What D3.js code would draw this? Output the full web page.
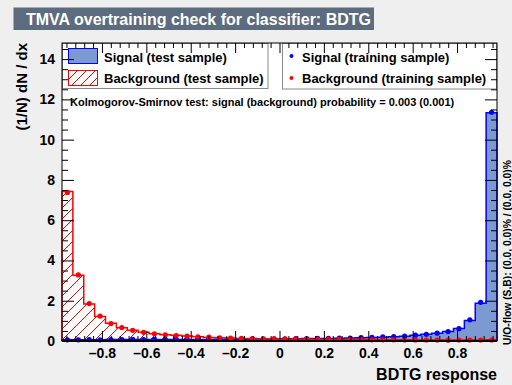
<!DOCTYPE html>
<html>
<head>
<meta charset="utf-8">
<script src="https://cdn.jsdelivr.net/npm/d3@7"></script>
<style>
  html, body { margin: 0; padding: 0; background: #efefef; }
  svg { display: block; }
  text { font-family: "Liberation Sans", Arial, Helvetica, sans-serif; font-weight: bold; }
</style>
</head>
<body>
<svg id="chart" width="512" height="385"></svg>
<script>
// BDTG response histograms: 40 bins between -0.98 and 0.98
const binEdges = [-0.98, 0.98];
const nBins = 40;

// Signal, test sample (normalised 1/N dN/dx)
const signalTest = [
  0.06, 0.06, 0.06, 0.06, 0.07, 0.07, 0.07, 0.07, 0.07, 0.08,
  0.08, 0.08, 0.08, 0.08, 0.09, 0.09, 0.09, 0.10, 0.10, 0.10,
  0.11, 0.11, 0.12, 0.12, 0.13, 0.14, 0.15, 0.16, 0.17, 0.19,
  0.21, 0.24, 0.28, 0.33, 0.38, 0.47, 0.62, 1.02, 1.88, 11.34
];
// Background, test sample
const backgroundTest = [
  7.42, 3.26, 1.84, 1.22, 0.88, 0.66, 0.53, 0.43, 0.36, 0.31,
  0.28, 0.25, 0.21, 0.18, 0.16, 0.15, 0.13, 0.12, 0.11, 0.10,
  0.10, 0.09, 0.09, 0.08, 0.08, 0.08, 0.07, 0.07, 0.07, 0.06,
  0.06, 0.06, 0.05, 0.05, 0.05, 0.05, 0.05, 0.05, 0.05, 0.06
];
// Signal, training sample
const signalTrain = [
  0.06, 0.06, 0.07, 0.06, 0.07, 0.07, 0.08, 0.07, 0.08, 0.08,
  0.08, 0.09, 0.08, 0.09, 0.09, 0.10, 0.09, 0.10, 0.10, 0.11,
  0.11, 0.12, 0.12, 0.13, 0.13, 0.15, 0.15, 0.17, 0.18, 0.20,
  0.22, 0.24, 0.29, 0.33, 0.39, 0.47, 0.61, 1.05, 1.92, 11.36
];
// Background, training sample
const backgroundTrain = [
  7.38, 3.28, 1.86, 1.24, 0.87, 0.67, 0.53, 0.43, 0.36, 0.31,
  0.27, 0.24, 0.21, 0.19, 0.16, 0.15, 0.13, 0.12, 0.11, 0.11,
  0.10, 0.09, 0.09, 0.08, 0.08, 0.08, 0.07, 0.07, 0.06, 0.06,
  0.06, 0.05, 0.05, 0.05, 0.05, 0.04, 0.05, 0.05, 0.05, 0.05
];

const xMajorTicks = [-0.8, -0.6, -0.4, -0.2, 0, 0.2, 0.4, 0.6, 0.8];
const yMajorTicks = [0, 2, 4, 6, 8, 10, 12, 14];
const yMax = 14.8;

const titleText = "TMVA overtraining check for classifier: BDTG";
const yTitle = "(1/N) dN / dx";
const xTitle = "BDTG response";
const ksText = "Kolmogorov-Smirnov test: signal (background) probability = 0.003 (0.001)";
const flowText = "U/O-flow (S,B): (0.0, 0.0)% / (0.0, 0.0)%";
const legendLeft = ["Signal (test sample)", "Background (test sample)"];
const legendRight = ["Signal (training sample)", "Background (training sample)"];

const sigFill = "#7d99d1", sigLine = "#0000ff", bkgLine = "#ff0000";

const svg = d3.select("#chart");
const frame = { left: 62, right: 497, top: 43, bottom: 341 };

const x = d3.scaleLinear().domain(binEdges).range([frame.left, frame.right]);
const y = d3.scaleLinear().domain([0, yMax]).range([frame.bottom, frame.top]);
const binW = (binEdges[1] - binEdges[0]) / nBins;
const lo = i => binEdges[0] + i * binW;
const centre = i => binEdges[0] + (i + 0.5) * binW;
const defs = svg.append("defs");

// "/" hatching inside a clip region
function hatch(clipId, bx, by, bw, bh, step) {
  const g = svg.append("g").attr("clip-path", `url(#${clipId})`);
  const lines = d3.range(bx - bh, bx + bw + step, step);
  g.selectAll("line").data(lines).join("line")
    .attr("x1", d => d).attr("y1", by + bh)
    .attr("x2", d => d + bh).attr("y2", by)
    .style("stroke", bkgLine).style("stroke-width", 1);
}

// title box
svg.append("rect").attr("x", 13.5).attr("y", 7.5).attr("width", 360.5).attr("height", 22.5)
  .attr("fill", "#5c6b7d");
svg.append("text").attr("x", 26).attr("y", 24.5).attr("fill", "#ffffff")
  .attr("font-size", 16).text(titleText);

// plot area
svg.append("rect").attr("x", frame.left).attr("y", frame.top)
  .attr("width", frame.right - frame.left).attr("height", frame.bottom - frame.top)
  .attr("fill", "#ffffff");

// step outline of a histogram, closed to the baseline
function stepPoints(vals) {
  const pts = [[x(lo(0)), y(0)]];
  vals.forEach((v, i) => {
    pts.push([x(lo(i)), y(v)]);
    pts.push([x(lo(i + 1)), y(v)]);
  });
  pts.push([x(lo(vals.length)), y(0)]);
  return pts;
}
const line = d3.line();

svg.append("path").attr("d", line(stepPoints(signalTest)) + "Z")
  .attr("fill", sigFill).attr("stroke", "none");

defs.append("clipPath").attr("id", "bkgClip")
  .append("path").attr("d", line(stepPoints(backgroundTest)) + "Z");
hatch("bkgClip", frame.left, frame.top, frame.right - frame.left, frame.bottom - frame.top, 11);

svg.append("path").attr("d", line(stepPoints(signalTest)))
  .attr("fill", "none").attr("stroke", sigLine).attr("stroke-width", 1.5);
svg.append("path").attr("d", line(stepPoints(backgroundTest)))
  .attr("fill", "none").attr("stroke", bkgLine).attr("stroke-width", 1.5);

// training sample markers
function markers(vals, colour) {
  svg.append("g").selectAll("circle").data(vals).join("circle")
    .attr("cx", (d, i) => x(centre(i))).attr("cy", d => y(d))
    .attr("r", 2.6).attr("fill", colour);
}
markers(signalTrain, sigLine);
markers(backgroundTrain, bkgLine);

// legends
const legBorder = "#8a8a8a";
svg.append("rect").attr("x", 62.5).attr("y", 43.5).attr("width", 205.5).attr("height", 45)
  .attr("fill", "#ffffff").attr("stroke", legBorder).attr("stroke-width", 1);
svg.append("rect").attr("x", 282.5).attr("y", 43.5).attr("width", 214).attr("height", 45.5)
  .attr("fill", "#ffffff").attr("stroke", legBorder).attr("stroke-width", 1);

svg.append("rect").attr("x", 68.5).attr("y", 48.5).attr("width", 29).attr("height", 15)
  .attr("fill", sigFill).attr("stroke", sigLine).attr("stroke-width", 1);
defs.append("clipPath").attr("id", "legClip")
  .append("rect").attr("x", 68.5).attr("y", 70.5).attr("width", 29).attr("height", 15);
hatch("legClip", 68.5, 70.5, 29, 15, 9);
svg.append("rect").attr("x", 68.5).attr("y", 70.5).attr("width", 29).attr("height", 15)
  .attr("fill", "none").attr("stroke", bkgLine).attr("stroke-width", 1);
legendLeft.forEach((t, i) => {
  svg.append("text").attr("x", 104).attr("y", 62 + i * 21).attr("font-size", 13).text(t);
});
[sigLine, bkgLine].forEach((c, i) => {
  svg.append("circle").attr("cx", 291.5).attr("cy", 56 + i * 22).attr("r", 2).attr("fill", c);
});
legendRight.forEach((t, i) => {
  svg.append("text").attr("x", 302).attr("y", 62 + i * 21).attr("font-size", 13).text(t);
});

// KS test result
svg.append("text").attr("x", 70).attr("y", 106).attr("font-size", 11).text(ksText);

// axes: ticks on all four sides, pointing inwards
const fmt = d => (d < 0 ? "\u2013" : "") + d3.format("")(Math.abs(d));
const xMinor = d3.range(-0.96, 0.981, 0.04).map(v => +v.toFixed(2))
  .filter(v => !xMajorTicks.some(m => Math.abs(m - v) < 1e-6));
const yMinor = d3.range(0, yMax, 0.5).filter(v => v % 2 !== 0);

function styleAxis(g) {
  g.select(".domain").remove();
  g.selectAll("line").attr("stroke", "#000").attr("stroke-width", 1);
  g.selectAll("text").attr("fill", "#000").attr("font-size", 14)
    .attr("font-family", "Liberation Sans, Arial, sans-serif").attr("font-weight", "bold");
}

svg.append("g").attr("transform", `translate(0,${frame.bottom})`)
  .call(d3.axisBottom(x).tickValues(xMajorTicks).tickSize(-10).tickPadding(7).tickFormat(fmt))
  .call(styleAxis);
svg.append("g").attr("transform", `translate(0,${frame.bottom})`)
  .call(d3.axisBottom(x).tickValues(xMinor).tickSize(-5).tickFormat(""))
  .call(styleAxis);
svg.append("g").attr("transform", `translate(0,${frame.top})`)
  .call(d3.axisTop(x).tickValues(xMajorTicks).tickSize(-10).tickFormat(""))
  .call(styleAxis);
svg.append("g").attr("transform", `translate(0,${frame.top})`)
  .call(d3.axisTop(x).tickValues(xMinor).tickSize(-5).tickFormat(""))
  .call(styleAxis);

svg.append("g").attr("transform", `translate(${frame.left},0)`)
  .call(d3.axisLeft(y).tickValues(yMajorTicks).tickSize(-12).tickPadding(7).tickFormat(fmt))
  .call(styleAxis);
svg.append("g").attr("transform", `translate(${frame.left},0)`)
  .call(d3.axisLeft(y).tickValues(yMinor).tickSize(-6).tickFormat(""))
  .call(styleAxis);
svg.append("g").attr("transform", `translate(${frame.right},0)`)
  .call(d3.axisRight(y).tickValues(yMajorTicks).tickSize(-12).tickFormat(""))
  .call(styleAxis);
svg.append("g").attr("transform", `translate(${frame.right},0)`)
  .call(d3.axisRight(y).tickValues(yMinor).tickSize(-6).tickFormat(""))
  .call(styleAxis);

// frame
svg.append("rect").attr("x", frame.left).attr("y", frame.top)
  .attr("width", frame.right - frame.left).attr("height", frame.bottom - frame.top)
  .attr("fill", "none").attr("stroke", "#000").attr("stroke-width", 1);
svg.append("line").attr("x1", frame.left).attr("x2", frame.right)
  .attr("y1", frame.bottom).attr("y2", frame.bottom)
  .attr("stroke", "#000").attr("stroke-width", 2);

// axis titles
svg.append("text").attr("x", frame.right).attr("y", 380).attr("text-anchor", "end")
  .attr("font-size", 16).text(xTitle);
svg.append("text").attr("transform", `translate(27,${frame.top}) rotate(-90)`)
  .attr("text-anchor", "end").attr("font-size", 15).text(yTitle);

// under/overflow note
svg.append("text").attr("transform", "translate(511,345) rotate(-90)")
  .attr("font-size", 10.3).text(flowText);
</script>
</body>
</html>
